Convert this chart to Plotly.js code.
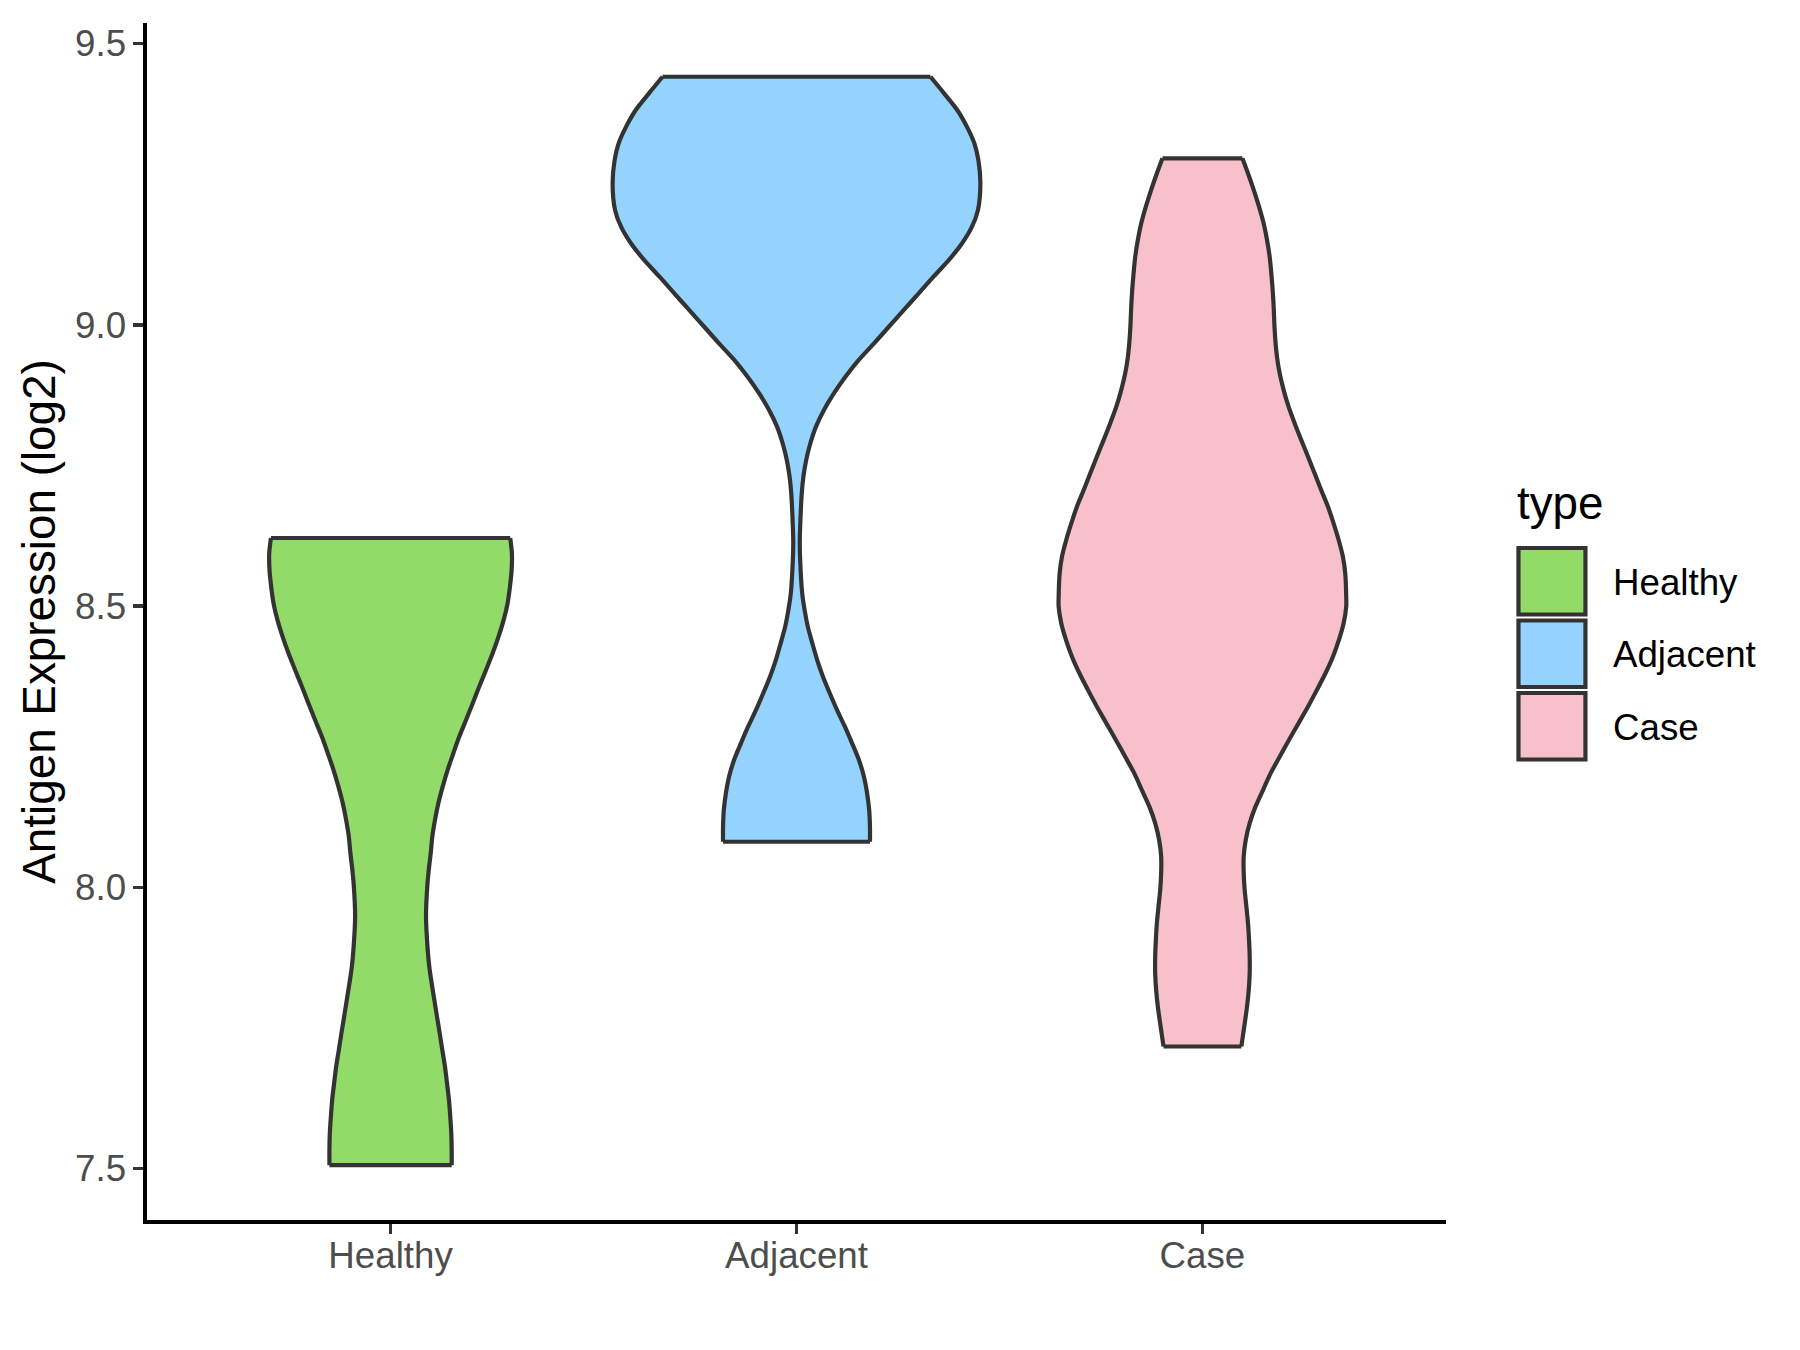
<!DOCTYPE html>
<html>
<head>
<meta charset="utf-8">
<script src="https://cdn.plot.ly/plotly-3.0.1.min.js"></script>
<style>html,body{margin:0;padding:0;background:#fff;}#chart{width:1800px;height:1350px;}</style>
</head>
<body>
<div id="chart"></div>
<script>
// ---------------- data ----------------
const categories = ['Healthy', 'Adjacent', 'Case'];
const yTicks = [7.5, 8.0, 8.5, 9.0, 9.5];
const legendTitle = 'type';
const yTitle = 'Antigen Expression (log2)';

// violin profiles: expression value (log2) and scaled density half-width (category units)
const healthyY = [8.621, 8.594, 8.564, 8.534, 8.505, 8.475, 8.446, 8.416, 8.386, 8.357, 8.327, 8.297, 8.268, 8.238, 8.209, 8.179, 8.149, 8.120, 8.090, 8.061, 8.037, 8.007, 7.948, 7.889, 7.859, 7.829, 7.800, 7.770, 7.741, 7.711, 7.681, 7.652, 7.622, 7.592, 7.563, 7.533, 7.506];
const healthyDensity = [0.2947, 0.2989, 0.2982, 0.2940, 0.2883, 0.2785, 0.2662, 0.2514, 0.2349, 0.2185, 0.2022, 0.1857, 0.1693, 0.1545, 0.1407, 0.1284, 0.1176, 0.1095, 0.1028, 0.0990, 0.0950, 0.0910, 0.0873, 0.0915, 0.0954, 0.1014, 0.1078, 0.1144, 0.1210, 0.1274, 0.1341, 0.1390, 0.1439, 0.1471, 0.1496, 0.1506, 0.1506];

const adjacentY = [9.441, 9.412, 9.382, 9.352, 9.323, 9.293, 9.252, 9.204, 9.174, 9.145, 9.115, 9.086, 9.056, 9.026, 8.997, 8.967, 8.938, 8.908, 8.878, 8.849, 8.819, 8.789, 8.760, 8.730, 8.701, 8.641, 8.612, 8.582, 8.523, 8.493, 8.463, 8.434, 8.404, 8.375, 8.345, 8.315, 8.286, 8.256, 8.226, 8.197, 8.167, 8.138, 8.108, 8.081];
const adjacentDensity = [0.330, 0.363, 0.396, 0.420, 0.438, 0.448, 0.453, 0.447, 0.432, 0.408, 0.375, 0.338, 0.301, 0.264, 0.228, 0.191, 0.154, 0.121, 0.092, 0.068, 0.048, 0.034, 0.024, 0.017, 0.013, 0.009, 0.008, 0.009, 0.014, 0.020, 0.028, 0.039, 0.051, 0.065, 0.082, 0.100, 0.119, 0.137, 0.154, 0.166, 0.174, 0.179, 0.181, 0.181];

const caseY = [9.296, 9.269, 9.240, 9.210, 9.180, 9.151, 9.121, 9.091, 9.062, 9.032, 9.003, 8.973, 8.943, 8.914, 8.884, 8.854, 8.825, 8.795, 8.766, 8.736, 8.706, 8.677, 8.647, 8.618, 8.588, 8.558, 8.517, 8.499, 8.469, 8.440, 8.410, 8.381, 8.351, 8.321, 8.292, 8.262, 8.232, 8.203, 8.173, 8.143, 8.114, 8.084, 8.055, 8.025, 7.995, 7.966, 7.936, 7.906, 7.877, 7.847, 7.817, 7.788, 7.758, 7.717];
const caseDensity = [0.0984, 0.1123, 0.1263, 0.1394, 0.1509, 0.1591, 0.1656, 0.1697, 0.1730, 0.1755, 0.1771, 0.1796, 0.1837, 0.1902, 0.2001, 0.2124, 0.2271, 0.2435, 0.2599, 0.2763, 0.2927, 0.3091, 0.3231, 0.3354, 0.3460, 0.3518, 0.3542, 0.3542, 0.3477, 0.3362, 0.3214, 0.3034, 0.2821, 0.2599, 0.2370, 0.2132, 0.1902, 0.1681, 0.1492, 0.1304, 0.1164, 0.1066, 0.1017, 0.1017, 0.1041, 0.1082, 0.1123, 0.1148, 0.1164, 0.1164, 0.1140, 0.1099, 0.1041, 0.0959];

// ---------------- styling ----------------
const fillColors = ['#93DB69', '#93D3FE', '#F7C0CB'];
const outline = '#333333';
const LW = 4.2;
const FONT = '"Liberation Sans", Arial, Helvetica, sans-serif';

const profiles = [
  {y: healthyY, d: healthyDensity},
  {y: adjacentY, d: adjacentDensity},
  {y: caseY, d: caseDensity}
];

const traces = [];
profiles.forEach((p, i) => {
  const center = i + 1;
  const right = p.y.map((v, k) => center + p.d[k]);
  const left = p.y.map((v, k) => center - p.d[k]);
  const n = p.y.length;
  // filled body (no outline, straight segments so nothing leaks past the flat ends)
  const xs = right.concat(left.slice().reverse());
  const ys = p.y.concat(p.y.slice().reverse());
  traces.push({
    type: 'scatter', mode: 'lines', x: xs, y: ys,
    fill: 'toself', fillcolor: fillColors[i],
    line: {width: 0, color: 'rgba(0,0,0,0)'},
    hoverinfo: 'skip', showlegend: false
  });
  // smooth sides
  [right, left].forEach(side => {
    traces.push({
      type: 'scatter', mode: 'lines', x: side, y: p.y,
      line: {color: outline, width: LW, shape: 'spline', smoothing: 0.8},
      hoverinfo: 'skip', showlegend: false
    });
  });
  // flat top and bottom edges
  [0, n - 1].forEach(k => {
    traces.push({
      type: 'scatter', mode: 'lines', x: [left[k], right[k]], y: [p.y[k], p.y[k]],
      line: {color: outline, width: LW},
      hoverinfo: 'skip', showlegend: false
    });
  });
});

// plot area in pixels
const W = 1800, H = 1350;
const L = 147, R = 1446.5, T = 23, B = 1220;
const px = X => (X - L) / (R - L);
const py = Y => (B - Y) / (B - T);

// ggplot-like legend
const keyLeft = 1519, keyRight = 1586;
const keyTops = [548, 620.5, 693];
const keySize = 66.5;
const shapes = [];
const annotations = [];
categories.forEach((c, i) => {
  const top = keyTops[i], bot = top + keySize;
  shapes.push({type: 'rect', xref: 'paper', yref: 'paper',
    x0: px(keyLeft), x1: px(keyRight), y0: py(bot), y1: py(top),
    fillcolor: fillColors[i], line: {color: outline, width: LW}});
  annotations.push({xref: 'paper', yref: 'paper', x: px(1612), y: py((top + bot) / 2 + 1),
    xanchor: 'left', yanchor: 'middle', text: c, showarrow: false,
    font: {family: FONT, size: 36.7, color: '#000000'}});
});
annotations.push({xref: 'paper', yref: 'paper', x: px(1516), y: py(503),
  xanchor: 'left', yanchor: 'middle', text: legendTitle, showarrow: false,
  font: {family: FONT, size: 45.8, color: '#000000'}});

const layout = {
  width: W, height: H,
  paper_bgcolor: '#ffffff', plot_bgcolor: '#ffffff',
  margin: {l: L, r: W - R, t: T, b: H - B, pad: 0},
  showlegend: false,
  font: {family: FONT},
  xaxis: {
    range: [0.4, 3.6], tickmode: 'array', tickvals: [1, 2, 3], ticktext: categories,
    showgrid: false, zeroline: false,
    showline: true, linecolor: '#000000', linewidth: 3.6,
    ticks: 'outside', ticklen: 10, tickwidth: 3.6, tickcolor: '#333333',
    ticklabelstandoff: -10,
    tickfont: {family: FONT, size: 36.7, color: '#4D4D4D'}
  },
  yaxis: {
    range: [7.4086, 9.5366], tickmode: 'array', tickvals: yTicks, tickformat: '.1f',
    showgrid: false, zeroline: false,
    showline: true, linecolor: '#000000', linewidth: 3.6,
    ticks: 'outside', ticklen: 10, tickwidth: 3.6, tickcolor: '#333333',
    tickfont: {family: FONT, size: 36.7, color: '#4D4D4D'},
    title: {text: yTitle, font: {family: FONT, size: 45.8, color: '#000000'}, standoff: 6}
  },
  shapes: shapes,
  annotations: annotations
};

Plotly.newPlot('chart', traces, layout, {displayModeBar: false, staticPlot: true});
</script>
</body>
</html>
